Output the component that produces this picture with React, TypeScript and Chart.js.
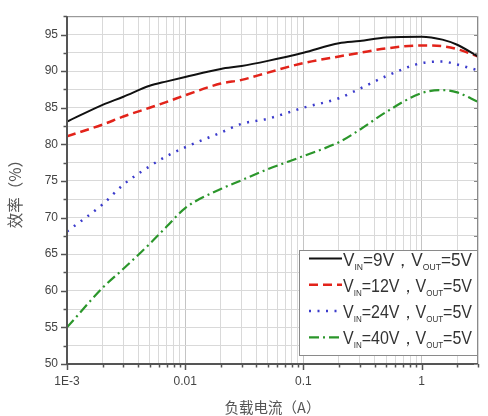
import React, { useEffect, useRef } from 'react';
import { Chart, registerables } from 'chart.js';
Chart.register(...registerables);

// ---- data ----
const loadCurrent = [0.001, 0.002, 0.003, 0.005, 0.007, 0.01, 0.02, 0.03, 0.05, 0.1, 0.2, 0.3, 0.5, 1, 1.5, 2, 3];
const eff9V = [83.1, 85.4, 86.5, 88.0, 88.6, 89.2, 90.3, 90.7, 91.4, 92.5, 93.8, 94.1, 94.6, 94.7, 94.3, 93.6, 92.0];
const eff12V = [81.1, 82.7, 83.8, 85.0, 85.8, 86.7, 88.3, 88.8, 89.8, 91.1, 92.0, 92.5, 93.1, 93.5, 93.4, 93.0, 92.0];
const eff24V = [68.1, 71.8, 74.5, 77.0, 78.4, 79.6, 81.6, 82.8, 83.5, 85.0, 86.3, 87.6, 89.3, 91.1, 91.3, 90.9, 90.1];
const eff40V = [55.0, 60.4, 63.0, 66.4, 68.8, 71.3, 73.9, 75.1, 76.6, 78.4, 80.3, 82.0, 84.4, 87.0, 87.4, 87.1, 85.8];
const vinLabels = ['9V', '12V', '24V', '40V'];
const voutLabel = '5V';

const xTickValues = [
  0.001, 0.002, 0.003, 0.004, 0.005, 0.006, 0.007, 0.008, 0.009,
  0.01, 0.02, 0.03, 0.04, 0.05, 0.06, 0.07, 0.08, 0.09,
  0.1, 0.2, 0.3, 0.4, 0.5, 0.6, 0.7, 0.8, 0.9,
  1, 2, 3,
];
const xDecades = [0.001, 0.01, 0.1, 1];
const xDecadeLabels = ['1E-3', '0.01', '0.1', '1'];
const xMin = 0.001;
const xMax = 3;
const yMin = 50;
const yMax = 97.5;
const yStep = 2.5;
const yLabelStep = 5;
const xTitle = '负载电流（A）';
const yTitle = '效率（%）';

const isDecade = (v: number) => xDecades.some((d) => Math.abs(d - v) < d * 1e-6);
const decadeLabel = (v: number) => {
  const i = xDecades.findIndex((d) => Math.abs(d - v) < d * 1e-6);
  return i >= 0 ? xDecadeLabels[i] : '';
};

const seriesStyles = [
  { color: '#111111', dash: [] as number[], width: 2, cap: 'butt' },
  { color: '#e2231a', dash: [9, 5], width: 2.5, cap: 'butt' },
  { color: '#3b3bcc', dash: [2, 6.5], width: 2.5, cap: 'butt' },
  { color: '#2b962b', dash: [10, 4, 2, 4], width: 2.2, cap: 'butt' },
];

const frameAndLegend = {
  id: 'frameAndLegend',
  afterDraw(chart: any) {
    const { ctx, chartArea, scales } = chart;
    const { left, right, top, bottom } = chartArea;
    const x = scales.x;
    const y = scales.y;
    ctx.save();
    ctx.strokeStyle = '#8a8a8a';
    ctx.lineWidth = 1;
    ctx.beginPath();
    ctx.moveTo(left, top + 0.5);
    ctx.lineTo(right - 0.5, top + 0.5);
    ctx.lineTo(right - 0.5, bottom);
    ctx.stroke();
    ctx.strokeStyle = '#555555';
    ctx.lineWidth = 2;
    ctx.beginPath();
    ctx.moveTo(left, top);
    ctx.lineTo(left, bottom);
    ctx.lineTo(right, bottom);
    ctx.stroke();
    ctx.lineWidth = 1.5;
    for (const t of x.ticks) {
      const px = Math.round(x.getPixelForValue(t.value)) + 0.5;
      const len = isDecade(t.value) ? 6 : 3.5;
      ctx.beginPath();
      ctx.moveTo(px, bottom);
      ctx.lineTo(px, bottom + len);
      ctx.stroke();
    }
    for (const t of y.ticks) {
      const py = Math.round(y.getPixelForValue(t.value)) + 0.5;
      const major = Math.abs(t.value / yLabelStep - Math.round(t.value / yLabelStep)) < 1e-6;
      const len = major ? 6 : 3.5;
      ctx.beginPath();
      ctx.moveTo(left - len, py);
      ctx.lineTo(left, py);
      ctx.stroke();
      if (t.value < yMax) {
        ctx.strokeStyle = '#888';
        ctx.lineWidth = 1;
        ctx.beginPath();
        ctx.moveTo(right - 4, py);
        ctx.lineTo(right, py);
        ctx.stroke();
        ctx.strokeStyle = '#555555';
        ctx.lineWidth = 1.5;
      }
    }

    // legend
    const bx = right - 179;
    const by = bottom - 114;
    const bw = 178;
    const bh = 105;
    ctx.fillStyle = '#ffffff';
    ctx.fillRect(bx, by, bw, bh);
    ctx.strokeStyle = '#8a8a8a';
    ctx.lineWidth = 1;
    ctx.strokeRect(bx + 0.5, by + 0.5, bw, bh);
    const mainFont = '18px "Liberation Sans", Arial, sans-serif';
    const subFont = '9px "Liberation Sans", Arial, sans-serif';
    chart.data.datasets.forEach((ds: any, i: number) => {
      const ry = by + 8 + 26.3 * i + 0.5;
      ctx.save();
      ctx.strokeStyle = ds.borderColor;
      ctx.lineWidth = ds.borderWidth;
      ctx.setLineDash(ds.borderDash || []);
      ctx.beginPath();
      ctx.moveTo(bx + 10, ry);
      ctx.lineTo(bx + 43, ry);
      ctx.stroke();
      ctx.restore();
      const parts = [
        { t: 'V', sub: false },
        { t: 'IN', sub: true },
        { t: '=' + vinLabels[i] + '，', sub: false },
        { t: 'V', sub: false },
        { t: 'OUT', sub: true },
        { t: '=' + voutLabel, sub: false },
      ];
      let total = 0;
      const widths = parts.map((p) => {
        ctx.font = p.sub ? subFont : mainFont;
        const w = ctx.measureText(p.t).width;
        total += w;
        return w;
      });
      const tx0 = bx + 44;
      const targetW = 129;
      const sx = targetW / total;
      ctx.save();
      ctx.translate(tx0, ry + 7);
      ctx.scale(sx, 1);
      ctx.fillStyle = '#333333';
      ctx.textBaseline = 'alphabetic';
      let cx = 0;
      parts.forEach((p, k) => {
        ctx.font = p.sub ? subFont : mainFont;
        ctx.fillText(p.t, cx, p.sub ? 4 : 0);
        cx += widths[k];
      });
      ctx.restore();
    });
    ctx.restore();
  },
};

export default function App() {
  const ref = useRef<HTMLCanvasElement | null>(null);
  useEffect(() => {
    document.body.style.margin = '0';
    const canvas = ref.current;
    if (!canvas) return;
    const seriesData = [eff9V, eff12V, eff24V, eff40V];
    const chart = new Chart(canvas, {
      type: 'line',
      data: {
        datasets: seriesData.map((vals, i) => ({
          label: 'VIN=' + vinLabels[i] + ', VOUT=' + voutLabel,
          data: loadCurrent.map((xv, k) => ({ x: xv, y: vals[k] })),
          borderColor: seriesStyles[i].color,
          borderWidth: seriesStyles[i].width,
          borderDash: seriesStyles[i].dash,
          borderCapStyle: seriesStyles[i].cap as any,
          pointRadius: 0,
          fill: false,
          cubicInterpolationMode: 'monotone' as const,
        })),
      },
      options: {
        animation: false,
        responsive: false,
        maintainAspectRatio: false,
        layout: { padding: { top: 10, right: 1, left: 0, bottom: 0 } },
        plugins: { legend: { display: false }, tooltip: { enabled: false } },
        scales: {
          x: {
            type: 'logarithmic',
            min: xMin,
            max: xMax,
            afterBuildTicks: (scale: any) => {
              scale.ticks = xTickValues.map((v) => ({ value: v }));
            },
            afterFit: (scale: any) => {
              scale.height = 52;
            },
            ticks: {
              autoSkip: false,
              maxRotation: 0,
              minRotation: 0,
              padding: 10,
              color: '#444',
              font: { size: 12, family: '"Liberation Sans", Arial, sans-serif' },
              callback: (v: any) => decadeLabel(Number(v)),
            },
            grid: {
              drawTicks: false,
              color: (c: any) => (c.tick && isDecade(c.tick.value) ? '#c4c4c4' : '#d9d9d9'),
              lineWidth: 1,
            },
            border: { display: false },
            title: {
              display: true,
              text: xTitle,
              color: '#555',
              font: { size: 14.5, family: '"Noto Sans CJK SC", sans-serif' },
              padding: { top: 0, bottom: 0 },
            },
          },
          y: {
            min: yMin,
            max: yMax,
            afterFit: (scale: any) => {
              scale.width = 67;
            },
            ticks: {
              stepSize: yStep,
              autoSkip: false,
              padding: 9,
              color: '#444',
              font: { size: 12, family: '"Liberation Sans", Arial, sans-serif' },
              callback: (v: any) => {
                const n = Number(v);
                return Math.abs(n / yLabelStep - Math.round(n / yLabelStep)) < 1e-6 ? String(n) : '';
              },
            },
            grid: { drawTicks: false, color: '#d9d9d9', lineWidth: 1 },
            border: { display: false },
            title: {
              display: true,
              text: yTitle,
              color: '#555',
              font: { size: 15.5, family: '"Noto Sans CJK SC", sans-serif' },
              padding: { top: 6, bottom: 0 },
            },
          },
        },
      },
      plugins: [frameAndLegend],
    });
    return () => chart.destroy();
  }, []);
  return <canvas ref={ref} width={488} height={416} style={{ display: 'block', width: 488, height: 416 }} />;
}
